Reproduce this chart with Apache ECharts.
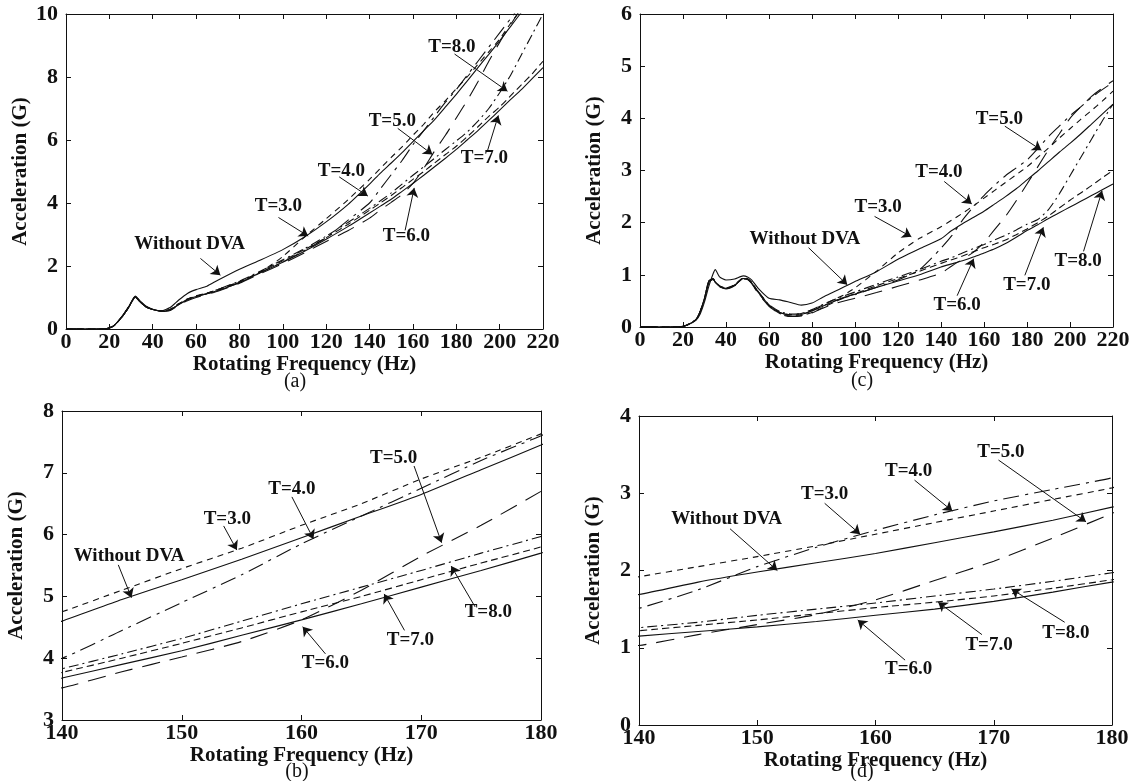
<!DOCTYPE html>
<html>
<head>
<meta charset="utf-8">
<title>Acceleration vs rotating frequency</title>
<script src="https://cdn.jsdelivr.net/npm/echarts@6/dist/echarts.min.js"></script>
<style>
    html, body { margin: 0; padding: 0; background: #fff; }
    #chart { width: 1139px; height: 781px; }
</style>
</head>
<body>
<div id="chart"></div>
<script>
"use strict";

// left column, panels (a) and (b) -- (b) is a zoom of (a)
var freqL = [0,10,18,22,26,29,32,34,37,40, 44,48,52,56,60,65,70,80,90,100,
             110,120,130,140,145,150,155,160,165,170, 175,180,185,190,195,200,205,210,215,220];
var noDvaL = [0,0,0,0.1,0.42,0.72,1.05,0.9,0.72,0.63, 0.58,0.68,0.92,1.13,1.25,1.36,1.55,1.9,2.2,2.52,
              2.92,3.4,3.95,4.6,4.95,5.27,5.6,5.95,6.3,6.65, 7.05,7.45,7.87,8.3,8.72,9.15,9.6,10.05,10.5,11];
var t3L = [0,0,0,0.1,0.4,0.7,1.02,0.88,0.7,0.62, 0.57,0.62,0.8,0.95,1.05,1.13,1.25,1.5,1.82,2.3,
           2.92,3.5,4.1,4.75,5.1,5.45,5.78,6.15,6.5,6.9, 7.25,7.63,8.0,8.4,8.8,9.2,9.7,10.15,10.6,11];
var t4L = [0,0,0,0.1,0.4,0.7,1.02,0.88,0.7,0.62, 0.57,0.6,0.78,0.93,1.03,1.12,1.22,1.48,1.8,2.13,
           2.49,2.9,3.45,4.0,4.45,4.9,5.35,5.85,6.3,6.75, 7.2,7.6,8.05,8.5,8.95,9.4,9.85,10.3,10.75,11.2];
var t5L = [0,0,0,0.1,0.4,0.7,1.01,0.87,0.7,0.61, 0.56,0.59,0.76,0.9,1.0,1.1,1.2,1.45,1.77,2.08,
           2.42,2.78,3.12,3.52,3.78,4.02,4.27,4.62,5.1,5.65, 6.15,6.7,7.25,7.85,8.5,9.1,9.65,10.2,10.7,11.2];
var t6L = [0,0,0,0.1,0.4,0.7,1.02,0.88,0.7,0.62, 0.57,0.6,0.78,0.93,1.03,1.12,1.22,1.47,1.8,2.12,
           2.47,2.85,3.25,3.68,3.9,4.12,4.37,4.62,4.88,5.15, 5.42,5.7,6.0,6.3,6.62,6.95,7.28,7.6,7.95,8.3];
var t7L = [0,0,0,0.1,0.41,0.71,1.03,0.89,0.71,0.62, 0.57,0.62,0.8,0.95,1.05,1.14,1.25,1.5,1.83,2.17,
           2.52,2.9,3.32,3.77,4.0,4.24,4.49,4.75,5.0,5.27, 5.54,5.8,6.1,6.42,6.75,7.05,7.4,7.75,8.1,8.5];
var t8L = [0,0,0,0.1,0.4,0.7,1.02,0.88,0.7,0.62, 0.57,0.61,0.79,0.94,1.04,1.13,1.26,1.52,1.85,2.2,
           2.55,2.95,3.38,3.83,4.07,4.32,4.6,4.88,5.15,5.42, 5.7,5.97,6.25,6.6,7.0,7.5,8.05,8.7,9.35,10.0];

// right column, panels (c) and (d) -- (d) is a zoom of (c)
var freqR = [0,10,18,22,26,28,30,32,34,35, 37,40,44,48,50,52,55,60,65,70,
             75,80,85,90,95,100,110,120,130,140, 145,150,155,160,165,170,175,180,185,190,
             195,200,205,210,215,220];
var noDvaR = [0.01,0,0,0.04,0.13,0.25,0.48,0.78,1.02,1.1, 0.96,0.9,0.92,0.98,0.96,0.9,0.74,0.55,0.52,0.47,
              0.42,0.46,0.57,0.67,0.77,0.87,1.06,1.3,1.5,1.69, 1.85,1.98,2.1,2.22,2.36,2.5,2.65,2.82,2.99,3.17,
              3.35,3.52,3.7,3.89,4.08,4.27];
var t3R = [0.01,0,0,0.04,0.14,0.3,0.55,0.88,0.92,0.86, 0.78,0.74,0.8,0.93,0.92,0.84,0.67,0.42,0.28,0.24,
           0.26,0.33,0.42,0.52,0.62,0.75,1.07,1.42,1.7,1.92, 2.05,2.18,2.32,2.47,2.62,2.77,2.92,3.07,3.25,3.43,
           3.62,3.8,3.98,4.15,4.33,4.52];
var t4R = [0.01,0,0,0.04,0.14,0.3,0.55,0.88,0.92,0.86, 0.78,0.74,0.8,0.93,0.92,0.84,0.67,0.42,0.28,0.23,
           0.24,0.31,0.4,0.49,0.56,0.62,0.76,0.9,1.1,1.51, 1.75,2.05,2.3,2.52,2.72,2.9,3.05,3.2,3.42,3.65,
           3.85,4.05,4.22,4.4,4.55,4.69];
var t5R = [0.01,0,0,0.04,0.14,0.29,0.53,0.85,0.91,0.85, 0.77,0.73,0.79,0.92,0.91,0.83,0.64,0.4,0.25,0.2,
           0.21,0.27,0.36,0.44,0.5,0.55,0.66,0.78,0.9,1.03, 1.17,1.3,1.43,1.62,1.87,2.12,2.42,2.74,3.07,3.4,
           3.7,4.0,4.22,4.42,4.58,4.72];
var t6R = [0.01,0,0,0.04,0.14,0.3,0.55,0.88,0.92,0.86, 0.78,0.74,0.8,0.93,0.92,0.84,0.67,0.42,0.28,0.23,
           0.24,0.31,0.4,0.49,0.57,0.63,0.76,0.88,1.0,1.15, 1.21,1.27,1.34,1.42,1.5,1.6,1.72,1.85,1.96,2.08,
           2.19,2.3,2.41,2.52,2.63,2.74];
var t7R = [0.01,0,0,0.04,0.14,0.29,0.54,0.86,0.93,0.87, 0.79,0.75,0.81,0.94,0.93,0.85,0.66,0.4,0.26,0.21,
           0.22,0.28,0.37,0.47,0.56,0.64,0.79,0.93,1.07,1.22, 1.29,1.36,1.44,1.52,1.59,1.67,1.77,1.88,2.0,2.13,
           2.28,2.43,2.57,2.71,2.86,3.0];
var t8R = [0.01,0,0,0.04,0.14,0.3,0.55,0.87,0.92,0.86, 0.78,0.74,0.8,0.93,0.92,0.85,0.68,0.43,0.3,0.25,
           0.26,0.33,0.43,0.52,0.6,0.67,0.82,0.96,1.1,1.26, 1.33,1.42,1.5,1.58,1.67,1.76,1.86,1.97,2.06,2.25,
           2.55,2.9,3.25,3.6,3.95,4.27];

// annotations: [text, textX, textY, arrowFromX, arrowFromY, arrowToX, arrowToY]
var notesA = [
    ['Without DVA', 57, 2.71, 62, 2.24, 71.2, 1.71],
    ['T=3.0', 98, 3.89, 98, 3.54, 111.7, 2.95],
    ['T=4.0', 127, 5.01, 126, 4.83, 139.2, 4.22],
    ['T=5.0', 150.5, 6.6, 153, 6.37, 169, 5.54],
    ['T=6.0', 157, 2.95, 156.4, 3.13, 160.6, 4.48],
    ['T=7.0', 193, 5.42, 194.4, 5.66, 199.4, 6.78],
    ['T=8.0', 178, 8.96, 179.2, 8.73, 203.6, 7.55]
];
var notesB = [
    ['Without DVA', 145.6, 5.66, 144.7, 5.51, 145.8, 4.98],
    ['T=3.0', 153.8, 6.25, 153.5, 6.14, 154.6, 5.75],
    ['T=4.0', 159.2, 6.73, 159.2, 6.61, 161, 5.93],
    ['T=5.0', 167.7, 7.23, 169.4, 7.11, 171.7, 5.87],
    ['T=6.0', 162, 3.92, 162, 4.07, 160.1, 4.51],
    ['T=7.0', 169.1, 4.3, 168.6, 4.45, 166.9, 5.04],
    ['T=8.0', 175.6, 4.75, 174.5, 4.83, 172.5, 5.49]
];
var notesC = [
    ['Without DVA', 76.7, 1.69, 78.4, 1.52, 96.4, 0.81],
    ['T=3.0', 110.8, 2.29, 109.1, 2.12, 126.2, 1.73],
    ['T=4.0', 139, 2.96, 141.5, 2.79, 154.3, 2.36],
    ['T=5.0', 167.1, 3.99, 169.7, 3.85, 186.7, 3.39],
    ['T=6.0', 147.5, 0.42, 147.5, 0.6, 155.2, 1.31],
    ['T=7.0', 179.9, 0.81, 179, 0.99, 187.6, 1.91],
    ['T=8.0', 203.8, 1.27, 206.3, 1.45, 214.9, 2.61]
];
var notesD = [
    ['Without DVA', 147.4, 2.66, 147.7, 2.54, 151.7, 2.0],
    ['T=3.0', 155.7, 2.99, 155.7, 2.87, 158.7, 2.47],
    ['T=4.0', 162.8, 3.29, 163.3, 3.17, 166.5, 2.77],
    ['T=5.0', 170.6, 3.53, 170.4, 3.43, 177.8, 2.63],
    ['T=6.0', 162.8, 0.72, 162.5, 0.84, 158.5, 1.36],
    ['T=7.0', 169.6, 1.03, 169, 1.17, 165.3, 1.59],
    ['T=8.0', 176.1, 1.19, 176, 1.33, 171.5, 1.76]
];

var xTitle = 'Rotating Frequency (Hz)';
var yTitle = 'Acceleration (G)';

function chartLoad() {
    var serif = 'Liberation Serif, Times New Roman, serif';
    var ink = '#111111';

    var curvesL = [noDvaL, t3L, t4L, t5L, t6L, t7L, t8L];
    var curvesR = [noDvaR, t3R, t4R, t5R, t6R, t7R, t8R];
    // without DVA, T=3 ... T=8
    var dashes = ['solid', [6, 5], [16, 6, 3, 6], [18, 10], 'solid', [7, 4], [10, 4, 2, 4]];

    var panels = [
        {grid: {left: 66, top: 14, width: 477, height: 315}, freq: freqL, curves: curvesL,
         x: [0, 220, 20], y: [0, 10, 2], notes: notesA, tag: '(a)', tagPos: [295, 372]},
        {grid: {left: 640, top: 14, width: 473, height: 313}, freq: freqR, curves: curvesR,
         x: [0, 220, 20], y: [0, 6, 1], notes: notesC, tag: '(c)', tagPos: [862, 371]},
        {grid: {left: 62, top: 411, width: 479, height: 309}, freq: freqL, curves: curvesL,
         x: [140, 180, 10], y: [3, 8, 1], notes: notesB, tag: '(b)', tagPos: [297, 762]},
        {grid: {left: 639, top: 416, width: 473, height: 309}, freq: freqR, curves: curvesR,
         x: [140, 180, 10], y: [0, 4, 1], notes: notesD, tag: '(d)', tagPos: [862, 762]}
    ];

    var grids = [], xAxes = [], yAxes = [], series = [], titles = [];

    panels.forEach(function (p, i) {
        grids.push(p.grid);
        var tick = {inside: true, length: 5, lineStyle: {color: ink}};
        var line = {show: true, onZero: false, lineStyle: {color: ink, width: 1}};
        var label = {color: ink, fontFamily: serif, fontWeight: 'bold', fontSize: 22};
        var nameStyle = {color: ink, fontFamily: serif, fontWeight: 'bold', fontSize: 21};
        xAxes.push({
            gridIndex: i, type: 'value', position: 'bottom',
            min: p.x[0], max: p.x[1], interval: p.x[2],
            axisLine: line, axisTick: tick, splitLine: {show: false},
            axisLabel: Object.assign({margin: 2}, label),
            name: xTitle, nameLocation: 'middle', nameGap: 22, nameTextStyle: nameStyle
        });
        xAxes.push({
            gridIndex: i, type: 'value', position: 'top',
            min: p.x[0], max: p.x[1], interval: p.x[2],
            axisLine: line, axisTick: tick, splitLine: {show: false}, axisLabel: {show: false}
        });
        yAxes.push({
            gridIndex: i, type: 'value', position: 'left',
            min: p.y[0], max: p.y[1], interval: p.y[2],
            axisLine: line, axisTick: tick, splitLine: {show: false},
            axisLabel: Object.assign({margin: 8}, label),
            name: yTitle, nameLocation: 'middle', nameGap: 35, nameTextStyle: nameStyle
        });
        yAxes.push({
            gridIndex: i, type: 'value', position: 'right',
            min: p.y[0], max: p.y[1], interval: p.y[2],
            axisLine: line, axisTick: tick, splitLine: {show: false}, axisLabel: {show: false}
        });

        p.curves.forEach(function (vals, k) {
            var s = {
                type: 'line',
                xAxisIndex: 2 * i, yAxisIndex: 2 * i,
                data: p.freq.map(function (f, j) { return [f, vals[j]]; }),
                showSymbol: false, smooth: 0.2, clip: true, silent: true,
                lineStyle: {color: ink, width: 1.1, type: dashes[k]}
            };
            if (k === 0) {
                s.markLine = {
                    silent: true, symbol: ['none', 'arrow'], symbolSize: 9,
                    label: {show: false},
                    lineStyle: {color: ink, width: 1, type: 'solid'},
                    data: p.notes.map(function (n) {
                        return [{coord: [n[3], n[4]]}, {coord: [n[5], n[6]]}];
                    })
                };
                s.markPoint = {
                    silent: true, symbol: 'circle', symbolSize: 1,
                    itemStyle: {color: 'rgba(0,0,0,0)'},
                    label: {show: true, position: 'inside', formatter: '{b}', color: ink,
                            fontFamily: serif, fontWeight: 'bold', fontSize: 19},
                    data: p.notes.map(function (n) {
                        return {name: n[0], coord: [n[1], n[2]]};
                    })
                };
            }
            series.push(s);
        });

        titles.push({
            text: p.tag, left: p.tagPos[0], top: p.tagPos[1], textAlign: 'center', padding: 0,
            textStyle: {color: ink, fontFamily: serif, fontWeight: 'normal', fontSize: 20}
        });
    });

    var chart = echarts.init(document.getElementById('chart'));
    chart.setOption({
        animation: false,
        backgroundColor: '#ffffff',
        title: titles,
        grid: grids,
        xAxis: xAxes,
        yAxis: yAxes,
        series: series
    });
    window.onresize = function () {
        chart.resize();
    };
}

chartLoad();
</script>
</body>
</html>
